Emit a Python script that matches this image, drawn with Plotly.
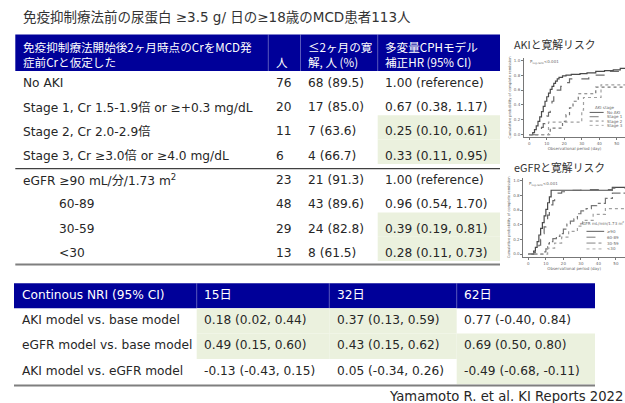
import plotly.graph_objects as go

FIG_W, FIG_H = 625, 403

# ---------------- data ----------------
main_title = "免疫抑制療法前の尿蛋白 ≥3.5 g/ 日の≥18歳のMCD患者113人"

hr_header = [
    ["免疫抑制療法開始後2ヶ月時点のCrをMCD発", "症前Crと仮定した"],
    ["", "人"],
    ["≤2ヶ月の寛", "解, 人 (%)"],
    ["多変量CPHモデル", "補正HR (95% CI)"],
]
group_labels = [
    "No AKI",
    "Stage 1, Cr 1.5-1.9倍 or ≥+0.3 mg/dL",
    "Stage 2, Cr 2.0-2.9倍",
    "Stage 3, Cr ≥3.0倍 or ≥4.0 mg/dL",
    "eGFR ≥90 mL/分/1.73 m<sup>2</sup>",
    "60-89",
    "30-59",
    "&lt;30",
]
group_indent = [0, 0, 0, 0, 0, 1, 1, 1]
n_patients = [76, 20, 11, 6, 23, 48, 29, 13]
n_remission = [68, 17, 7, 4, 21, 43, 24, 8]
remission_pct = [89.5, 85.0, 63.6, 66.7, 91.3, 89.6, 82.8, 61.5]
hr_est = [1.00, 0.67, 0.25, 0.33, 1.00, 0.96, 0.39, 0.28]
hr_low = [None, 0.38, 0.10, 0.11, None, 0.54, 0.19, 0.11]
hr_high = [None, 1.17, 0.61, 0.95, None, 1.70, 0.81, 0.73]

nri_corner = "Continous NRI (95% CI)"
nri_days = ["15日", "32日", "62日"]
nri_models = ["AKI model vs. base model", "eGFR model vs. base model", "AKI model vs. eGFR model"]
nri_est = [[0.18, 0.37, 0.77], [0.49, 0.43, 0.69], [-0.13, 0.05, -0.49]]
nri_low = [[0.02, 0.13, -0.40], [0.15, 0.15, 0.50], [-0.43, -0.34, -0.68]]
nri_high = [[0.44, 0.59, 0.84], [0.60, 0.62, 0.80], [0.15, 0.26, -0.11]]

citation = "Yamamoto R. et al. KI Reports 2022"

# cumulative probability of complete remission by AKI stage
aki_title = "AKIと寛解リスク"
aki_legend_title = "AKI stage"
aki_names = ["No AKI", "Stage 1", "Stage 2", "Stage 3"]
aki_days = [
    [0, 2, 3, 4, 5, 6, 7, 8, 9, 10, 11, 12, 13, 14, 15, 16, 17, 19, 21, 24, 29, 33, 38, 43, 48, 52, 60],
    [0, 6, 7, 8, 9, 10, 11, 12, 13, 14, 16, 18, 20, 23, 34, 46, 60],
    [0, 12, 19, 21, 23, 25, 28, 38, 60],
    [0, 11, 30, 31, 41, 60],
]
aki_cum = [
    [0, 0.03, 0.07, 0.12, 0.18, 0.24, 0.31, 0.38, 0.45, 0.51, 0.56, 0.61, 0.65, 0.69, 0.72, 0.75,
     0.77, 0.79, 0.80, 0.81, 0.82, 0.83, 0.85, 0.86, 0.87, 0.89, 0.89],
    [0, 0.05, 0.10, 0.15, 0.20, 0.25, 0.30, 0.40, 0.45, 0.55, 0.60, 0.65, 0.70, 0.75, 0.80, 0.85, 0.85],
    [0, 0.09, 0.18, 0.27, 0.36, 0.45, 0.55, 0.64, 0.64],
    [0, 0.17, 0.33, 0.50, 0.67, 0.67],
]

# cumulative probability of complete remission by eGFR category
egfr_title = "eGFRと寛解リスク"
egfr_legend_title = "eGFR mL/min/1.73 m<sup>2</sup>"
egfr_names = ["≥90", "60-89", "30-59", "&lt;30"]
egfr_days = [
    [0, 3, 4, 5, 6, 7, 8, 9, 10, 11, 12, 13, 48, 60],
    [0, 3, 5, 6, 7, 8, 9, 10, 11, 12, 13, 14, 15, 17, 19, 23, 30, 48, 60],
    [0, 9, 10, 11, 12, 14, 16, 18, 20, 22, 24, 26, 28, 30, 33, 36, 39, 44, 48, 60],
    [0, 11, 15, 19, 23, 28, 31, 37, 44, 60],
]
egfr_cum = [
    [0, 0.04, 0.09, 0.17, 0.26, 0.35, 0.43, 0.52, 0.61, 0.70, 0.78, 0.87, 0.91, 0.91],
    [0, 0.02, 0.06, 0.12, 0.20, 0.28, 0.37, 0.45, 0.53, 0.60, 0.67, 0.73, 0.78, 0.83, 0.85, 0.87, 0.88, 0.90, 0.90],
    [0, 0.03, 0.07, 0.14, 0.17, 0.21, 0.24, 0.28, 0.34, 0.41, 0.45, 0.48, 0.55, 0.59, 0.62, 0.66, 0.69, 0.76, 0.83, 0.83],
    [0, 0.08, 0.15, 0.23, 0.31, 0.38, 0.46, 0.54, 0.62, 0.62],
]
p_value_text = "P<sub>log-rank</sub><0.001"

# ---------------- styles ----------------
NAVY = "#000099"
GREEN = "#EBF1DE"
INK = "#262626"
BODY_FONT = "DejaVu Sans, Noto Sans CJK JP, sans-serif"
CJK_FONT = "Noto Sans CJK JP, DejaVu Sans, sans-serif"
CURVE_STYLES = [("#4a4a4a", "solid"), ("#6a6a6a", "dash"), ("#767676", "dot"), ("#a0a0a0", "dot")]
EGFR_STYLES = [("#4a4a4a", "solid"), ("#6a6a6a", "dash"), ("#767676", "dashdot"), ("#a0a0a0", "dot")]

# table geometry on the page canvas (pixel axis x3/y3)
T1_EDGES = [15.3, 268.3, 300.5, 377.7, 500]
T1_HEAD = (34.5, 71.0)
T1_FIRST = 82.7
T1_PITCH = 24.3
T1_SPLIT_AFTER = 4
T1_BOTTOM = 264.5
PAD = 6.7
INDENT = 36

N_EDGES = [14, 196.7, 329.3, 456.7, 595]
N_HEAD = (283.3, 308.3)
N_PITCH = 25.3
N_BOTTOM = 385.5


def fmt_hr(e, lo, hi):
    if lo is None:
        return f"{e:.2f} (reference)"
    return f"{e:.2f} ({lo:.2f}, {hi:.2f})"


def fmt_ci(e, lo, hi):
    return f"{e:.2f} ({lo:.2f}, {hi:.2f})"


fig = go.Figure()
shapes = []
annos = []


def text(x, y, s, size=12.2, color=INK, family=BODY_FONT, xanchor="left", xref="x3", yref="y3",
         align="left"):
    annos.append(dict(x=x, y=y, xref=xref, yref=yref, text=s, showarrow=False,
                      xanchor=xanchor, yanchor="middle", borderpad=0, align=align,
                      font=dict(size=size, color=color, family=family)))


def rect(x0, x1, y0, y1, color, xref="x3", yref="y3"):
    shapes.append(dict(type="rect", x0=x0, x1=x1, y0=y0, y1=y1, xref=xref, yref=yref,
                       fillcolor=color, line=dict(width=0), layer="below"))


def hline(x0, x1, y, color, width, xref="x3", yref="y3", dash="solid"):
    shapes.append(dict(type="line", x0=x0, x1=x1, y0=y, y1=y, xref=xref, yref=yref,
                       line=dict(color=color, width=width, dash=dash)))


# empty trace anchoring the page canvas axes
fig.add_trace(go.Scatter(x=[], y=[], xaxis="x3", yaxis="y3", showlegend=False, hoverinfo="skip"))

# ---------- title ----------
text(22, 17, main_title, size=13.5, color="#333333")

# ---------- hazard ratio table ----------
rect(T1_EDGES[0], T1_EDGES[-1], T1_HEAD[0], T1_HEAD[1], NAVY)
for e in T1_EDGES[1:-1]:
    shapes.append(dict(type="line", x0=e, x1=e, y0=T1_HEAD[0], y1=T1_HEAD[1], xref="x3", yref="y3",
                       line=dict(color="rgba(255,255,255,0.35)", width=1)))
line1_y = T1_HEAD[0] + 12.2
line2_y = line1_y + 15
for c, lines in enumerate(hr_header):
    shown = [ln for ln in lines if ln]
    if len(shown) == 2:
        text(T1_EDGES[c] + PAD, (line1_y + line2_y) / 2, "<br>".join(shown), size=11.6,
             color="white", family=CJK_FONT)
    else:
        text(T1_EDGES[c] + PAD, line2_y, shown[0], size=11.6, color="white", family=CJK_FONT)

for i, lab in enumerate(group_labels):
    yc = T1_FIRST + T1_PITCH * i
    if hr_high[i] is not None and hr_high[i] < 1:
        rect(T1_EDGES[3], T1_EDGES[4], yc - 16, yc + 8.3, GREEN)
    text(T1_EDGES[0] + PAD + INDENT * group_indent[i], yc, lab)
    text(T1_EDGES[1] + PAD, yc, str(n_patients[i]))
    text(T1_EDGES[2] + PAD, yc, f"{n_remission[i]} ({remission_pct[i]:.1f})")
    text(T1_EDGES[3] + PAD, yc, fmt_hr(hr_est[i], hr_low[i], hr_high[i]))

split_y = T1_FIRST + T1_PITCH * (T1_SPLIT_AFTER - 0.5) + 0.8
hline(T1_EDGES[0], T1_EDGES[-1], split_y, "#404040", 1.2)
hline(T1_EDGES[0], T1_EDGES[-1], T1_BOTTOM, "#7f7f7f", 2.2)

# ---------- NRI table ----------
rect(N_EDGES[0], N_EDGES[-1], N_HEAD[0], N_HEAD[1], NAVY)
for e in N_EDGES[1:-1]:
    shapes.append(dict(type="line", x0=e, x1=e, y0=N_HEAD[0], y1=N_HEAD[1], xref="x3", yref="y3",
                       line=dict(color="rgba(255,255,255,0.35)", width=1)))
head_y = (N_HEAD[0] + N_HEAD[1]) / 2 - 0.5
text(N_EDGES[0] + PAD, head_y, nri_corner, color="white")
for j, d in enumerate(nri_days):
    text(N_EDGES[j + 1] + PAD, head_y, d, color="white")

for r, model in enumerate(nri_models):
    top = N_HEAD[1] + N_PITCH * r
    yc = top + N_PITCH / 2 - 1
    text(N_EDGES[0] + PAD, yc, model)
    for j in range(len(nri_days)):
        lo, hi = nri_low[r][j], nri_high[r][j]
        if lo > 0 or hi < 0:
            rect(N_EDGES[j + 1], N_EDGES[j + 2], top, top + N_PITCH, GREEN)
        text(N_EDGES[j + 1] + PAD, yc, fmt_ci(nri_est[r][j], lo, hi))
hline(N_EDGES[0], N_EDGES[-1], N_BOTTOM, "#7f7f7f", 2.2)

text(624, 396.5, citation, size=13.2, xanchor="right")

# ---------- cumulative remission curves ----------
text(513, 43.5, aki_title, size=10.8, color="#333333", family=CJK_FONT)
text(513, 167, egfr_title, size=10.8, color="#333333", family=CJK_FONT)

for i in range(len(aki_names)):
    col, dash = CURVE_STYLES[i]
    fig.add_trace(go.Scatter(x=aki_days[i], y=aki_cum[i], mode="lines", xaxis="x", yaxis="y",
                             line=dict(shape="hv", color=col, width=1.2, dash=dash),
                             showlegend=False, hoverinfo="skip"))
for i in range(len(egfr_names)):
    col, dash = EGFR_STYLES[i]
    fig.add_trace(go.Scatter(x=egfr_days[i], y=egfr_cum[i], mode="lines", xaxis="x2", yaxis="y2",
                             line=dict(shape="hv", color=col, width=1.2, dash=dash),
                             showlegend=False, hoverinfo="skip"))

TINY = 4
GRAY = "#666666"


def mini_legend(xa, ya, title, names, styles, title_x, title_y, line_x0, line_x1, row_y, step):
    text(title_x, title_y, title, size=TINY, color=GRAY, xanchor="left", xref=xa, yref=ya)
    for k, nm in enumerate(names):
        yy = row_y - step * k
        col, dash = styles[k]
        hline(line_x0, line_x1, yy, col, 0.9, xref=xa, yref=ya, dash=dash)
        text(line_x1 + 1.2, yy, nm, size=TINY, color=GRAY, xref=xa, yref=ya)


mini_legend("x", "y", aki_legend_title, aki_names, CURVE_STYLES, 37, 0.37, 34.5, 42.5, 0.30, 0.058)
mini_legend("x2", "y2", egfr_legend_title, egfr_names, EGFR_STYLES, 28.8, 0.42, 33.2, 43.3, 0.31, 0.08)
text(0, 0.97, p_value_text, size=TINY, color=GRAY, xref="x", yref="y")
text(0, 0.955, p_value_text, size=TINY, color=GRAY, xref="x2", yref="y2")

mini_axis = dict(showline=True, linecolor="#777777", linewidth=1, ticks="outside", ticklen=2,
                 tickwidth=0.8, tickcolor="#777777", showgrid=False, zeroline=False,
                 tickfont=dict(size=TINY, color=GRAY, family="DejaVu Sans"))
x_title = dict(text="Observational period (day)", font=dict(size=TINY, color=GRAY, family="DejaVu Sans"), standoff=2)
y_title = dict(text="Cumulative probability of complete remission",
               font=dict(size=3.6, color=GRAY, family="DejaVu Sans"), standoff=2)

fig.update_layout(
    width=FIG_W, height=FIG_H,
    margin=dict(l=0, r=0, t=0, b=0),
    paper_bgcolor="white", plot_bgcolor="rgba(0,0,0,0)",
    showlegend=False,
    xaxis=dict(domain=[524 / FIG_W, 1], range=[-3, 54.7], anchor="y", tick0=0, dtick=10,
               title=x_title, **mini_axis),
    yaxis=dict(domain=[(FIG_H - 137) / FIG_H, (FIG_H - 58) / FIG_H], range=[-0.03, 1.03], anchor="x",
               tick0=0, dtick=0.2, tickformat=".1f", title=y_title, **mini_axis),
    xaxis2=dict(domain=[523.3 / FIG_W, 1], range=[-2.9, 55.2], anchor="y2", tick0=0, dtick=10,
                title=x_title, **mini_axis),
    yaxis2=dict(domain=[(FIG_H - 257) / FIG_H, (FIG_H - 177.8) / FIG_H], range=[-0.04, 1.04], anchor="x2",
                tick0=0, dtick=0.2, tickformat=".1f", title=y_title, **mini_axis),
    xaxis3=dict(domain=[0, 1], range=[0, FIG_W], anchor="y3", visible=False, fixedrange=True),
    yaxis3=dict(domain=[0, 1], range=[FIG_H, 0], anchor="x3", visible=False, fixedrange=True),
    shapes=shapes,
    annotations=annos,
)

fig.write_html("out.html")
